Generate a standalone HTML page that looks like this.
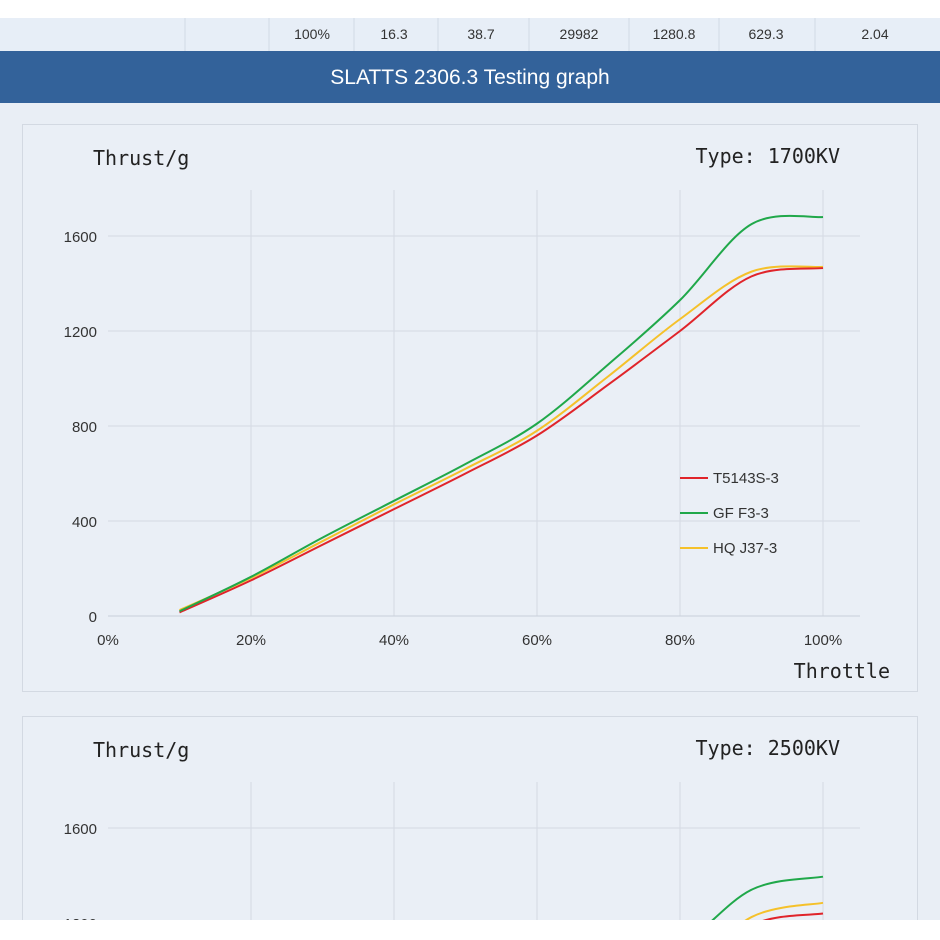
<!DOCTYPE html>
<html><head><meta charset="utf-8"><style>
body{margin:0;width:940px;height:940px;overflow:hidden;background:#fff;font-family:"Liberation Sans",sans-serif}
svg{display:block}
</style></head><body>
<svg id="s" width="940" height="940">
<rect x="0" y="0" width="940" height="18" fill="#fff"/>
<g>
<rect x="0" y="18" width="940" height="33" fill="#e7eef7"/>
<g stroke="#d2dae5"><line x1="185" y1="18" x2="185" y2="51"/><line x1="269" y1="18" x2="269" y2="51"/><line x1="354" y1="18" x2="354" y2="51"/><line x1="438" y1="18" x2="438" y2="51"/><line x1="529" y1="18" x2="529" y2="51"/><line x1="629" y1="18" x2="629" y2="51"/><line x1="719" y1="18" x2="719" y2="51"/><line x1="815" y1="18" x2="815" y2="51"/></g>
<g font-size="14" fill="#333" text-anchor="middle">
<text x="312" y="39">100%</text><text x="394" y="39">16.3</text><text x="481" y="39">38.7</text><text x="579" y="39">29982</text><text x="674" y="39">1280.8</text><text x="766" y="39">629.3</text><text x="875" y="39">2.04</text></g>
</g>
<rect x="0" y="51" width="940" height="52" fill="#33629a"/>
<text x="470" y="84" fill="#fff" font-size="21" text-anchor="middle">SLATTS 2306.3 Testing graph</text>
<rect x="0" y="103" width="940" height="817" fill="#e9eef5"/>
<g id="c1"></g>
<g id="c2"></g>
<rect x="0" y="920" width="940" height="20" fill="#fff"/>
</svg>
<script>
const throttle=[10,20,30,40,50,60,70,80,90,100];
const xTicks=["0%","20%","40%","60%","80%","100%"];
const yTicks=[0,400,800,1200,1600];
const names=["T5143S-3","GF F3-3","HQ J37-3"];
const colors=["#e0242a","#20a84a","#f5c12a"];
const kv1700Red=[15,150,300,450,600,760,975,1200,1430,1465];
const kv1700Green=[20,165,330,485,640,810,1060,1330,1650,1680];
const kv1700Yellow=[25,160,315,470,620,780,1010,1250,1450,1470];
const kv2500Red=[20,160,320,480,630,760,860,940,1190,1240];
const kv2500Green=[25,180,360,540,710,860,980,1100,1340,1395];
const kv2500Yellow=[22,170,340,510,670,810,910,980,1225,1285];
const NS="http://www.w3.org/2000/svg";
function mk(p,t,a){const e=document.createElementNS(NS,t);for(const k in a)e.setAttribute(k,a[k]);p.appendChild(e);return e;}
function path(pts){let d="M"+pts[0][0]+","+pts[0][1];for(let i=0;i<pts.length-1;i++){const p0=pts[Math.max(0,i-1)],p1=pts[i],p2=pts[i+1],p3=pts[Math.min(pts.length-1,i+2)];d+=" C"+(p1[0]+(p2[0]-p0[0])/6)+","+(p1[1]+(p2[1]-p0[1])/6)+" "+(p2[0]-(p3[0]-p1[0])/6)+","+(p2[1]-(p3[1]-p1[1])/6)+" "+p2[0]+","+p2[1];}return d;}
function chart(g,top,type,series,legend){
 const x0=108,x1=823,y0=top+492;const X=v=>x0+(x1-x0)*v/100;const Y=v=>y0-v*0.2375;
 const p=mk(g,"rect",{x:22.5,y:top+0.5,width:895,height:567,fill:"#eaeff6",stroke:"#d3d9e2"});
 
 for(let i=1;i<=5;i++){const l=mk(g,"line",{x1:X(i*20),x2:X(i*20),y1:top+66,y2:y0,stroke:"#d4dae3"});}
 yTicks.forEach(v=>{const l=mk(g,"line",{x1:x0,x2:860,y1:Y(v),y2:Y(v),stroke:v==0?"#c8cfd9":"#d4dae3"});
  const t=mk(g,"text",{x:97,y:Y(v)+6,"text-anchor":"end","font-size":15,fill:"#333"});t.textContent=v;});
 xTicks.forEach((s,i)=>{const t=mk(g,"text",{x:X(i*20),y:y0+29,"text-anchor":"middle","font-size":15,fill:"#333"});t.textContent=s;});
 let t=mk(g,"text",{x:93,y:top+41,"font-size":20,fill:"#222","font-family":"DejaVu Sans Mono,monospace"});t.textContent="Thrust/g";
 t=mk(g,"text",{x:840,y:top+39,"font-size":20,fill:"#222","text-anchor":"end","font-family":"DejaVu Sans Mono,monospace"});t.textContent="Type: "+type;
 t=mk(g,"text",{x:890,y:top+554,"font-size":20,fill:"#222","text-anchor":"end","font-family":"DejaVu Sans Mono,monospace"});t.textContent="Throttle";
 [2,0,1].forEach(k=>{const pts=throttle.map((v,i)=>[X(v),Y(series[k][i])]);const l=mk(g,"path",{d:path(pts),fill:"none",stroke:colors[k],"stroke-width":2});});
 if(legend){names.forEach((n,k)=>{const y=top+354+k*35;const l=mk(g,"line",{x1:680,x2:708,y1:y,y2:y,stroke:colors[k],"stroke-width":2});
  const tt=mk(g,"text",{x:713,y:y+5,"font-size":15,fill:"#333"});tt.textContent=n;});}
}
chart(document.getElementById("c1"),124,"1700KV",[kv1700Red,kv1700Green,kv1700Yellow],true);
chart(document.getElementById("c2"),716,"2500KV",[kv2500Red,kv2500Green,kv2500Yellow],false);
</script>
</body></html>
